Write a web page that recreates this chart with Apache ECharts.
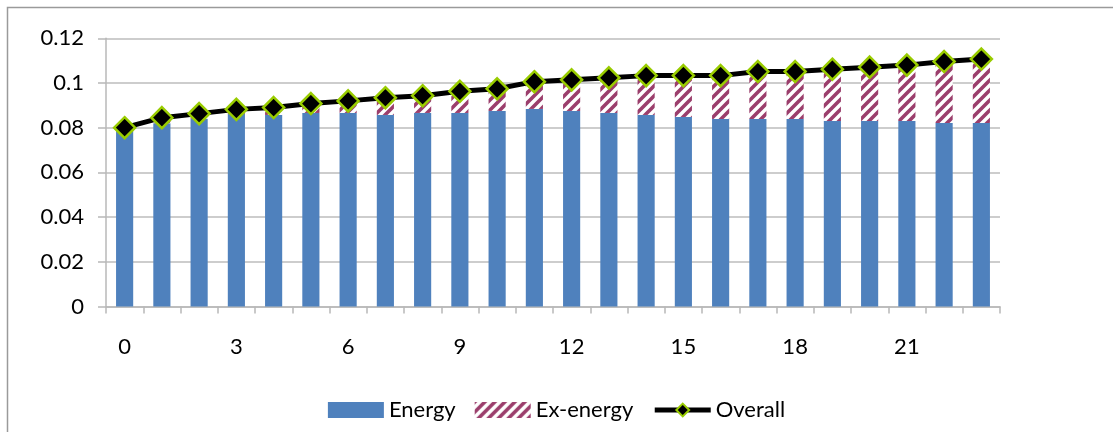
<!DOCTYPE html>
<html>
<head>
<meta charset="utf-8">
<script src="https://cdn.jsdelivr.net/npm/echarts@6/dist/echarts.min.js"></script>
<style>
html,body{margin:0;padding:0;background:#fff;}
#chart{width:1113px;height:432px;}
</style>
</head>
<body>
<div id="chart"></div>
<script>
var categories = ['0','1','2','3','4','5','6','7','8','9','10','11','12','13','14','15','16','17','18','19','20','21','22','23'];
var energy = [0.0800,0.0820,0.0840,0.0861,0.0857,0.0866,0.0866,0.0857,0.0866,0.0866,0.0875,0.0884,0.0875,0.0866,0.0857,0.0848,0.0839,0.0839,0.0839,0.0830,0.0830,0.0830,0.0821,0.0821];
var exEnergy = [0.0000,0.0025,0.0023,0.0021,0.0033,0.0042,0.0054,0.0077,0.0077,0.0097,0.0099,0.0122,0.0139,0.0157,0.0176,0.0185,0.0194,0.0212,0.0212,0.0232,0.0241,0.0250,0.0275,0.0286];
var overall = [0.0800,0.0845,0.0863,0.0882,0.0890,0.0908,0.0920,0.0934,0.0943,0.0963,0.0974,0.1006,0.1014,0.1023,0.1033,0.1033,0.1033,0.1051,0.1051,0.1062,0.1071,0.1080,0.1096,0.1107];
var yTicks = [0,0.02,0.04,0.06,0.08,0.1,0.12];

function makeStripes(){
  var s = 10;
  var c = document.createElement('canvas');
  c.width = s; c.height = s;
  var g = c.getContext('2d');
  g.fillStyle = '#ffffff';
  g.fillRect(0,0,s,s);
  g.strokeStyle = '#9B3E6C';
  g.lineWidth = 3.6;
  g.beginPath();
  g.moveTo(-2, s+2); g.lineTo(s+2, -2);
  g.moveTo(-2, 2); g.lineTo(2, -2);
  g.moveTo(s-2, s+2); g.lineTo(s+2, s-2);
  g.stroke();
  return c;
}
var stripes = {image: makeStripes(), repeat: 'repeat'};

var font = 'Lato, "Open Sans", sans-serif';
var chart = echarts.init(document.getElementById('chart'), null, {renderer:'canvas'});
chart.setOption({
  animation: false,
  backgroundColor: '#ffffff',
  graphic: [{
    type: 'rect', silent: true, z: -1,
    shape: {x: 7.5, y: 7.5, width: 1300, height: 600},
    style: {fill: 'none', stroke: '#9a9a9a', lineWidth: 1.5}
  }],
  grid: {left: 106, right: 113, top: 38.3, bottom: 125.5},
  legend: {
    bottom: 6, left: 'center',
    itemWidth: 56, itemHeight: 16, itemGap: 19,
    textStyle: {fontFamily: font, fontSize: 22, color: '#000'},
    data: [
      {name: 'Energy', icon: 'rect'},
      {name: 'Ex-energy', icon: 'rect'},
      {name: 'Overall', lineStyle: {width: 5, color: '#000'}}
    ]
  },
  xAxis: {
    type: 'category', data: categories,
    axisLine: {lineStyle: {color: '#b8b8b8', width: 1.5}},
    axisTick: {show: true, interval: 0, length: 7, lineStyle: {color: '#b8b8b8', width: 1.5}},
    axisLabel: {interval: 2, margin: 29, fontFamily: font, fontSize: 22, color: '#000'},
    splitLine: {show: false}
  },
  yAxis: {
    type: 'value', min: 0, max: 0.12, interval: 0.02,
    axisLine: {show: true, lineStyle: {color: '#b8b8b8', width: 1.5}},
    axisTick: {show: true, inside: false, length: 8, lineStyle: {color: '#b8b8b8', width: 1.5}},
    axisLabel: {margin: 22, fontFamily: font, fontSize: 22, color: '#000',
      formatter: function(v){ var t = yTicks.filter(function(k){return Math.abs(k-v)<1e-9;}); return t.length ? String(t[0]) : ''; }},
    splitLine: {lineStyle: {color: '#bdbdbd', width: 1.5}}
  },
  series: [
    {name: 'Energy', type: 'bar', stack: 'a', data: energy, barWidth: '46%',
      itemStyle: {color: '#4F81BD'}},
    {name: 'Ex-energy', type: 'bar', stack: 'a', data: exEnergy, barWidth: '46%',
      itemStyle: {color: stripes}},
    {name: 'Overall', type: 'line', data: overall, symbol: 'diamond', symbolSize: 21,
      lineStyle: {color: '#000', width: 5},
      itemStyle: {color: '#000', borderColor: '#99CC00', borderWidth: 2.5},
      z: 5}
  ]
});
</script>
</body>
</html>
